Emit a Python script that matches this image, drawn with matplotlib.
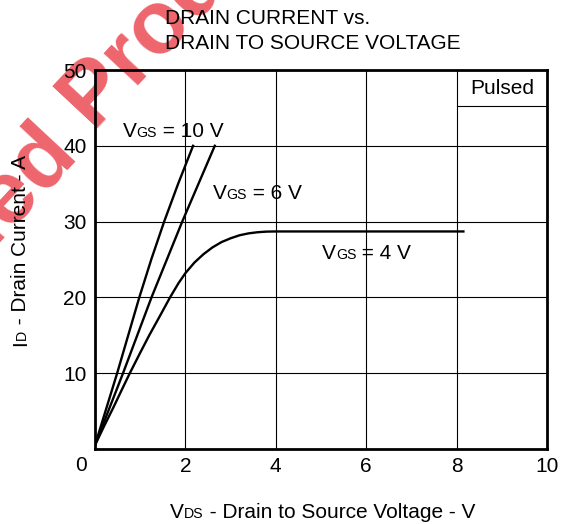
import matplotlib
matplotlib.use("Agg")
import matplotlib.pyplot as plt

plt.rcParams['font.family'] = ['Liberation Sans', 'DejaVu Sans']

# curves (V_DS in V, I_D in A)
vds_10 = [0.0, 0.49, 0.98, 1.25, 1.53, 1.84, 2.17]
id_10 = [0.5, 10.0, 20.0, 25.1, 30.0, 35.0, 40.0]

vds_6 = [0.0, 0.62, 1.25, 1.93, 2.65]
id_6 = [0.5, 10.0, 20.0, 30.0, 40.0]

vds_4 = [0.0, 0.2, 0.4, 0.6, 0.77, 1.0, 1.2, 1.45, 1.66, 1.85, 2.0, 2.2, 2.4,
         2.6, 2.8, 3.0, 3.2, 3.4, 3.6, 3.8, 4.0, 8.15]
id_4 = [0.5, 3.0, 5.4, 7.9, 10.0, 12.7, 15.0, 17.7, 20.0, 21.9, 23.2, 24.6, 25.7,
        26.6, 27.3, 27.8, 28.2, 28.45, 28.6, 28.68, 28.7, 28.7]

x_ticks = [2, 4, 6, 8, 10]
y_ticks = [10, 20, 30, 40, 50]

FS = 15
SUB = FS * 0.68

W, H = 568, 524
fig = plt.figure(figsize=(W / 100, H / 100), dpi=100)
ax = fig.add_axes([95 / W, 1 - 449 / H, 452 / W, 379 / H])
ax.patch.set_alpha(0)

# watermark behind everything
wm = dict(color='#e8323c', alpha=0.75, fontsize=64, fontweight='bold',
          rotation=47, rotation_mode='anchor', zorder=-5)
fig.text(78 / W, 1 - 152 / H, 'Discontinued', ha='right', va='baseline', **wm)
fig.text(92 / W, 1 - 128 / H, 'Product', ha='left', va='baseline', **wm)

ax.plot(vds_10, id_10, color='black', lw=1.7)
ax.plot(vds_6, id_6, color='black', lw=1.7)
ax.plot(vds_4, id_4, color='black', lw=1.7)

ax.set_xlim(0, 10)
ax.set_ylim(0, 50)
ax.set_xticks(x_ticks)
ax.set_yticks(y_ticks)
ax.tick_params(length=0, labelsize=FS, pad=6)
ax.grid(True, color='black', lw=0.8)
for s in ax.spines.values():
    s.set_linewidth(2)
ax.text(-0.32, -0.9, '0', fontsize=FS, ha='center', va='top')

# "Pulsed" box
ax.plot([8, 10], [45.3, 45.3], color='black', lw=0.8)
ax.text(9, 47.6, 'Pulsed', ha='center', va='center', fontsize=FS)


def sublabel(x, y, main, sub, rest):
    t = ax.text(x, y, main, fontsize=FS, va='bottom')
    t2 = ax.annotate(sub, xy=(1, 0), xycoords=t, fontsize=SUB,
                     va='bottom', xytext=(0, 1.0), textcoords='offset points')
    ax.annotate(rest, xy=(1, 0), xycoords=t2, fontsize=FS, va='bottom',
                xytext=(0, -1.0), textcoords='offset points')


sublabel(0.61, 40.6, 'V', 'GS', ' = 10 V')
sublabel(2.6, 32.4, 'V', 'GS', ' = 6 V')
sublabel(5.02, 24.5, 'V', 'GS', ' = 4 V')

fig.text(165 / W, 1 - 31 / H, 'DRAIN CURRENT vs.\nDRAIN TO SOURCE VOLTAGE',
         fontsize=FS, ha='left', va='center', linespacing=1.35)

# axis titles with small-caps subscripts
xt = fig.text(170 / W, 1 - 518 / H, 'V', fontsize=FS)
xt2 = plt.annotate('DS', xy=(1, 0), xycoords=xt, fontsize=SUB, va='bottom',
                   xytext=(0, 1.0), textcoords='offset points')
plt.annotate(' - Drain to Source Voltage - V', xy=(1, 0), xycoords=xt2, fontsize=FS,
             va='bottom', xytext=(0, -1.0), textcoords='offset points')

yt = fig.text(11 / W, 1 - 342 / H, 'I', fontsize=FS, rotation=90)
yt2 = plt.annotate('D', xy=(1, 1), xycoords=yt, fontsize=SUB, rotation=90, ha='right',
                   va='bottom', xytext=(-1.0, 0), textcoords='offset points')
plt.annotate(' - Drain Current - A', xy=(1, 1), xycoords=yt2, fontsize=FS, rotation=90,
             ha='right', va='bottom', xytext=(1.0, 0), textcoords='offset points')

fig.savefig('out.png', dpi=100)
